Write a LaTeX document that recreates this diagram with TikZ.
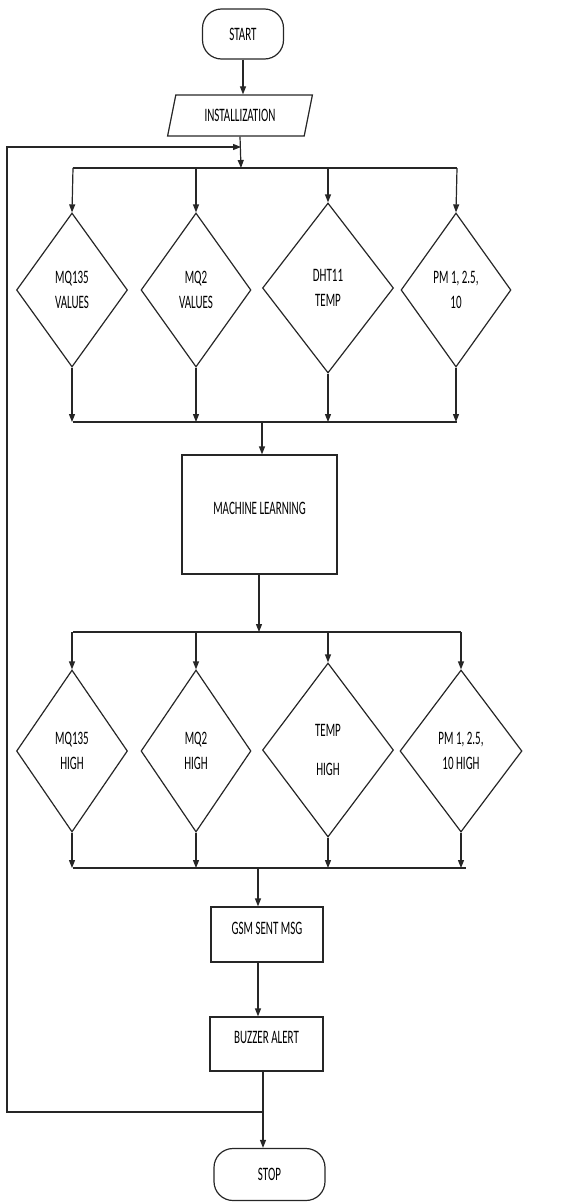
\documentclass[tikz,border=0pt]{standalone}
\usepackage{fontspec}
\setmainfont{Carlito}[FakeStretch=0.58]
\usetikzlibrary{shapes.geometric,arrows.meta}
\begin{document}
\begin{tikzpicture}[x=1pt,y=-1pt,
  every node/.style={font=\fontsize{19}{25}\selectfont},
  ln/.style={line width=1.2pt,draw=black!85},
  arr/.style={ln,-{Triangle[length=8pt,width=6pt]}},
  term/.style={ln,draw,rectangle,rounded corners=19pt,inner sep=0pt},
  io/.style={ln,draw,trapezium,trapezium left angle=70,trapezium right angle=110,trapezium stretches=true,inner sep=0pt},
  proc/.style={ln,draw,rectangle,inner sep=0pt},
  dec/.style={ln,draw,diamond,inner sep=0pt,align=center},
  txt/.style={inner sep=0pt,align=center}]
\useasboundingbox (0,0) rectangle (573,1202);
% nodes
\node[term,minimum width=81pt,minimum height=50pt] (start) at (243,34) {START};
\node[io,minimum width=146pt,minimum height=41pt] (inst) at (240,115.5) {INSTALLIZATION};
\node[dec,minimum width=111pt,minimum height=154pt] (d1) at (72,290) {MQ135\\VALUES};
\node[dec,minimum width=110pt,minimum height=154pt] (d2) at (196,290) {MQ2\\VALUES};
\node[dec,minimum width=131pt,minimum height=170pt] (d3) at (328,288) {DHT11\\TEMP};
\node[dec,minimum width=110pt,minimum height=154pt] (d4) at (456,290) {PM 1, 2.5,\\10};
\node[proc,minimum width=155pt,minimum height=119pt] (ml) at (259.5,514.5) {};
\node[txt] (mlt) at (259.5,508) {MACHINE LEARNING};
\node[dec,minimum width=111pt,minimum height=162pt] (e1) at (72,751) {MQ135\\HIGH};
\node[dec,minimum width=110pt,minimum height=162pt] (e2) at (196,751) {MQ2\\HIGH};
\node[dec,minimum width=131pt,minimum height=174pt] (e3) at (328,750) {TEMP\\[14pt]HIGH};
\node[dec,minimum width=122pt,minimum height=162pt] (e4) at (461,751) {PM 1, 2.5,\\10 HIGH};
\node[proc,minimum width=112pt,minimum height=55pt] (gsm) at (267,934.5) {};
\node[txt] (gsmt) at (267,928) {GSM SENT MSG};
\node[proc,minimum width=113pt,minimum height=54pt] (buz) at (266.5,1044) {};
\node[txt] (buzt) at (266.5,1037) {BUZZER ALERT};
\node[term,minimum width=111pt,minimum height=52pt] (stop) at (269.5,1174.5) {STOP};
% coordinates
\coordinate (j1) at (241,147);
\coordinate (b1) at (241,168);
\coordinate (b1l) at (73,168);
\coordinate (b1r) at (457,168);
\coordinate (m1l) at (73,422);
\coordinate (m1r) at (457,422);
\coordinate (m1c) at (262,422);
\coordinate (b2) at (259,632);
\coordinate (b2l) at (73,632);
\coordinate (b2r) at (461,632);
\coordinate (m2l) at (73,868);
\coordinate (m2r) at (466,868);
\coordinate (m2c) at (258,868);
\coordinate (lp) at (263,1112);
\coordinate (lc) at (7,147);
% connectors
\draw[arr] (start.south) -- (start.south |- inst.north);
\draw[arr] (inst.center |- inst.south) -- (b1);
\draw[ln] (b1l) -- (b1r);
\draw[arr] (b1l) -- (d1.north);
\draw[arr] (d2 |- b1) -- (d2.north);
\draw[arr] (d3 |- b1) -- (d3.north);
\draw[arr] (b1r) -- (d4.north);
\draw[arr] (d1.south) -- (d1 |- m1l);
\draw[arr] (d2.south) -- (d2 |- m1l);
\draw[arr] (d3.south) -- (d3 |- m1l);
\draw[arr] (d4.south) -- (d4 |- m1l);
\draw[ln] (m1l) -- (m1r);
\draw[arr] (m1c) -- (m1c |- ml.north);
\draw[arr] (b2 |- ml.south) -- (b2);
\draw[ln] (b2l) -- (b2r);
\draw[arr] (e1 |- b2l) -- (e1.north);
\draw[arr] (e2 |- b2l) -- (e2.north);
\draw[arr] (e3 |- b2l) -- (e3.north);
\draw[arr] (e4 |- b2l) -- (e4.north);
\draw[arr] (e1.south) -- (e1 |- m2l);
\draw[arr] (e2.south) -- (e2 |- m2l);
\draw[arr] (e3.south) -- (e3 |- m2l);
\draw[arr] (e4.south) -- (e4 |- m2l);
\draw[ln] (m2l) -- (m2r);
\draw[arr] (m2c) -- (m2c |- gsm.north);
\draw[arr] (m2c |- gsm.south) -- (m2c |- buz.north);
\draw[arr] (lp |- buz.south) -- (lp |- stop.north);
\draw[arr] (lp) -| (lc) -- (j1);
\end{tikzpicture}
\end{document}
